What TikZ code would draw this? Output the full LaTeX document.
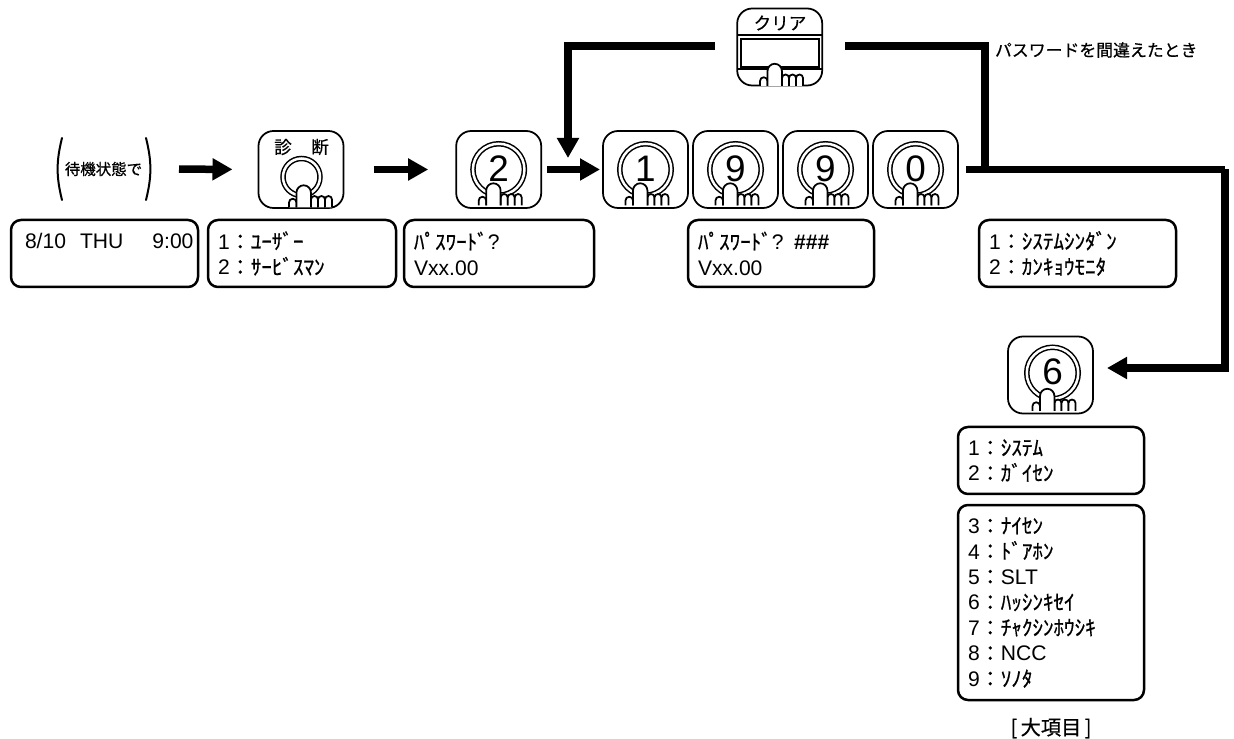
\documentclass[tikz,border=0pt]{standalone}
\usepackage{fontspec}
\setmainfont{Liberation Sans}
\newfontfamily\cjk{Noto Sans CJK JP}[FakeBold=0.6]
\usetikzlibrary{arrows.meta,positioning}
\newcommand{\kn}[1]{{\cjk #1}}

\begin{document}
\begin{tikzpicture}[
    x=0.2mm,y=-0.2mm,
    outer sep=0pt,
    keybox/.style={draw,line width=0.35mm,rounded corners=3mm,minimum width=17mm,minimum height=15.4mm,inner sep=0pt},
    ring/.style={circle,draw,double,double distance=0.5mm,line width=0.3mm,minimum size=10.3mm,inner sep=0pt,text depth=0.4mm,font=\fontsize{21}{21}\selectfont},
    lcd/.style={draw,line width=0.5mm,rounded corners=2mm,minimum height=13.4mm,inner sep=0pt,inner xsep=2mm,align=left,anchor=north west,font=\fontsize{12}{14.5}\selectfont},
    bar/.style={line width=1.5mm},
    arrow/.style={bar,-{Triangle[length=4mm,width=4.2mm]}},
    thinline/.style={line width=0.35mm},
    paren/.style={line width=0.4mm,line cap=round},
    hand/.pic={
      \draw[thinline,fill=white] (-20,36) -- (-20,31) arc (180:360:3.75) -- (-12.5,36);
      \draw[thinline,fill=white] (2,36) -- (2,28) arc (180:360:3.5) -- (9,36);
      \draw[thinline,fill=white] (9,36) -- (9,28) arc (180:360:3.5) -- (16,36);
      \draw[thinline,fill=white] (16,36) -- (16,28) arc (180:360:3.5) -- (23,36);
      \draw[thinline,fill=white] (-12.5,36) -- (-12.5,21) arc (180:360:7.2) -- (1.9,36);
    }
  ]
    \useasboundingbox (0,0) rectangle (1234,739);

    % top row of keys
    \node[minimum width=18.6mm,minimum height=12.4mm,inner sep=0pt,font=\cjk\fontsize{8.8}{10}\selectfont] (wait) at (103.5,169) {待機状態で};
    \draw[paren] ([xshift=1mm]wait.north west) to[bend right=14] ([xshift=1mm]wait.south west);
    \draw[paren] ([xshift=-0.8mm]wait.north east) to[bend left=14] ([xshift=-0.8mm]wait.south east);

    \node[keybox] (diag) at (301,169.5) {};
    \node[font=\cjk\fontsize{10}{10}\selectfont] (diagl) at (283,147) {診};
    \node[font=\cjk\fontsize{10}{10}\selectfont] (diagr) at (320,147) {断};
    \node[ring,minimum size=7.4mm] (diagring) at (301.5,177) {};
    \pic at (309,171.5) {hand};

    \node[keybox] (ktwo) at (498.7,169.5) {};
    \node[ring] (rtwo) at (ktwo) {2};
    \pic at (ktwo) {hand};

    \node[keybox] (kone) at (645.5,169.5) {};
    \node[ring] (rone) at (kone) {1};
    \pic at (kone) {hand};

    \node[keybox,right=1mm of kone] (knine) {};
    \node[ring] (rnine) at (knine) {9};
    \pic at (knine) {hand};

    \node[keybox,right=1mm of knine] (kninb) {};
    \node[ring] (rninb) at (kninb) {9};
    \pic at (kninb) {hand};

    \node[keybox,right=1mm of kninb] (kzero) {};
    \node[ring] (rzero) at (kzero) {0};
    \pic at (kzero) {hand};

    % clear key
    \node[keybox] (clr) at (779.7,47) {};
    \node[font=\cjk\fontsize{10}{10}\selectfont] (clrtxt) at (780,23) {クリア};
    \draw[thinline] (clr.west |- 0,35) -- (clr.east |- 0,35);
    \draw[thinline] (clr.west |- 0,69) -- (clr.east |- 0,69);
    \node[draw,line width=0.45mm,minimum width=15.7mm,minimum height=5.5mm,inner sep=0pt] (clrpad) at (780,53) {};
    \pic at (780,50) {hand};

    % key six
    \node[keybox] (ksix) at (1050.5,375) {};
    \node[ring] (rsix) at (1052.5,373) {6};
    \pic at (1052.5,375) {hand};

    % displays
    \node[lcd,text width=33.4mm] (lcdclock) at (11,220) {\mbox{\hspace*{0.8mm}8/10\ \ THU\hspace{5.8mm}9:00}\\ \ };
    \node[lcd,text width=33.6mm,right=2mm of lcdclock] (lcduser) {1\kn{：ﾕｰｻﾞｰ}\\2\kn{：ｻｰﾋﾞｽﾏﾝ}};
    \node[lcd,text width=34mm,right=1.6mm of lcduser] (lcdpass) {\kn{ﾊﾟｽﾜｰﾄﾞ}?\\Vxx.00};
    \node[lcd,text width=33.2mm] (lcdhash) at (688,220) {\kn{ﾊﾟｽﾜｰﾄﾞ}? \textbf{\#\#\#}\\Vxx.00};
    \node[lcd,text width=35.4mm] (lcddiag) at (979,220) {1\kn{：ｼｽﾃﾑｼﾝﾀﾞﾝ}\\2\kn{：ｶﾝｷｮｳﾓﾆﾀ}};
    \node[lcd,text width=33.2mm] (lcdmain) at (958,427) {1\kn{：ｼｽﾃﾑ}\\2\kn{：ｶﾞｲｾﾝ}};
    \node[lcd,text width=33.2mm,minimum height=39mm,below=2.2mm of lcdmain.south west,anchor=north west] (lcdsub) {3\kn{：ﾅｲｾﾝ}\\4\kn{：ﾄﾞｱﾎﾝ}\\5\kn{：}SLT\\6\kn{：ﾊｯｼﾝｷｾｲ}\\7\kn{：ﾁｬｸｼﾝﾎｳｼｷ}\\8\kn{：}NCC\\9\kn{：ｿﾉﾀ}};
    \node[font=\cjk\fontsize{11.5}{11.5}\selectfont,below=2.4mm of lcdsub] (lcdcap) {[\,大項目\,]};
    \node[anchor=west,inner sep=0pt,font=\cjk\fontsize{9.6}{10}\selectfont] (wrong) at (995,50) {パスワードを間違えたとき};

    % connection points
    \coordinate (clrin) at (715,46);
    \coordinate (clrout) at (845,46);
    \coordinate (turn) at (568,46);
    \coordinate (meet) at (568,158);
    \coordinate (join) at (985,169.5);
    \coordinate (edge) at (1225,169.5);
    \coordinate (sixin) at (1107,368);

    \draw[arrow,shorten <=5.8mm,shorten >=5.2mm] (wait.east) -- (diag.west);
    \draw[arrow,shorten <=6mm,shorten >=5.6mm] (diag.east) -- (ktwo.west);
    \draw[arrow,shorten <=1.2mm,shorten >=0.6mm] (ktwo.east) -- (kone.west);
    \draw[arrow] (clrin) -- (turn) -- (meet);
    \draw[bar] (clrout) -| (join);
    \draw[bar,shorten <=1.6mm] (kzero.east) -- (edge);
    \draw[arrow] (edge) |- (sixin);
  \end{tikzpicture}
\end{document}
